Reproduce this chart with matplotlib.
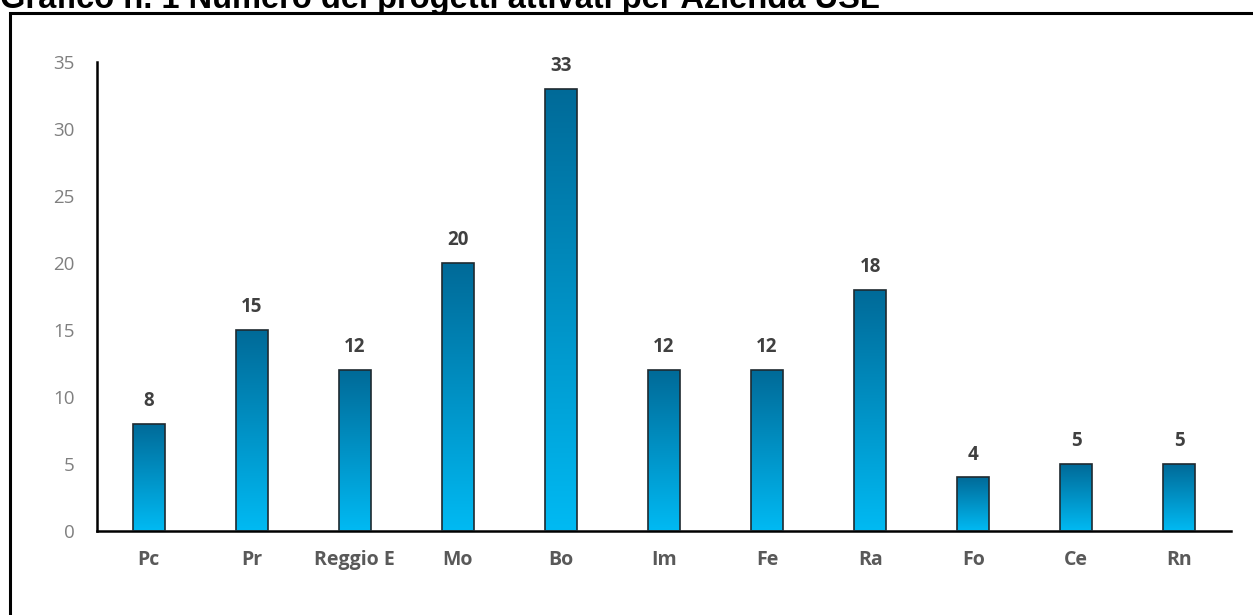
import matplotlib
matplotlib.use("Agg")
import matplotlib.pyplot as plt
import numpy as np
from matplotlib.patches import Rectangle

categories = ["Pc", "Pr", "Reggio E", "Mo", "Bo", "Im", "Fe", "Ra", "Fo", "Ce", "Rn"]
values = [8, 15, 12, 20, 33, 12, 12, 18, 4, 5, 5]
yticks = [0, 5, 10, 15, 20, 25, 30, 35]
title = "Grafico n. 1 Numero dei progetti attivati per Azienda USL"

W, H = 1253, 615
fig = plt.figure(figsize=(W / 100, H / 100), dpi=100)
fig.patch.set_facecolor("white")

fig.text(0.0, 1 - 8 / H, title, ha="left", va="baseline", fontsize=23.5,
         fontweight="bold", family="Liberation Sans", color="black")

# outer frame (drawn over the title's descenders, as in the reference)
frame = Rectangle((10 / W, -0.02), 1.2, (H - 13) / H + 0.02, transform=fig.transFigure,
                  fill=False, edgecolor="black", linewidth=2.2, clip_on=False, zorder=5)
fig.add_artist(frame)

ax = fig.add_axes([97 / W, 1 - 531 / H, (1231 - 97) / W, (531 - 62) / H])
ax.set_xlim(-0.5, len(categories) - 0.5)
ax.set_ylim(0, 35)

cmap = matplotlib.colors.LinearSegmentedColormap.from_list("bar", ["#00BAF3", "#006A98"])
grad = np.linspace(0, 1, 256).reshape(-1, 1)
bw = 0.31
bars = ax.bar(range(len(categories)), values, width=bw, color="none",
              edgecolor="#1f2a30", linewidth=1.2, zorder=3)
for b in bars:
    x0, y0 = b.get_x(), b.get_y()
    w, h = b.get_width(), b.get_height()
    im = ax.imshow(grad, cmap=cmap, origin="lower", aspect="auto",
                   extent=[x0, x0 + w, y0, y0 + h], zorder=2)
    im.set_clip_path(b)

ax.set_xlim(-0.5, len(categories) - 0.5)
ax.set_ylim(0, 35)

for i, v in enumerate(values):
    ax.text(i, v + 0.95, str(v), ha="center", va="bottom", fontsize=13.5,
            fontweight="bold", color="#404040", family="Open Sans")

for s in ["top", "right"]:
    ax.spines[s].set_visible(False)
for s in ["left", "bottom"]:
    ax.spines[s].set_color("black")
    ax.spines[s].set_linewidth(1.8)

ax.set_yticks(yticks)
ax.set_yticklabels([str(t) for t in yticks], fontsize=13.5, color="#7f7f7f",
                   family="Open Sans")
ax.set_xticks(range(len(categories)))
ax.set_xticklabels(categories, fontsize=14, fontweight="bold", color="#595959",
                   family="Open Sans")
ax.tick_params(axis="both", length=0)
ax.tick_params(axis="y", pad=16)
ax.tick_params(axis="x", pad=14)

fig.savefig("out.png", dpi=100, facecolor="white")
